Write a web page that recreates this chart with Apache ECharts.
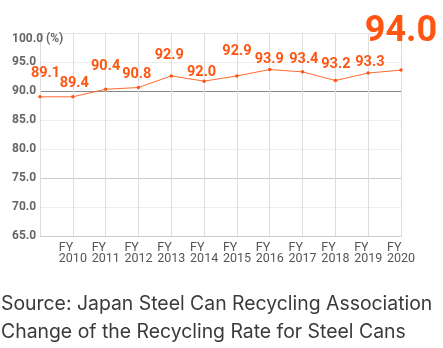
<!DOCTYPE html>
<html>
<head>
<meta charset="utf-8">
<script src="https://cdn.jsdelivr.net/npm/echarts@6/dist/echarts.min.js"></script>
<style>
html,body{margin:0;padding:0;background:#fff;}
#c{width:443px;height:348px;}
</style>
</head>
<body>
<div id="c"></div>
<script>
// ---- data ----
var categories = ['', '2010', '2011', '2012', '2013', '2014', '2015', '2016', '2017', '2018', '2019', '2020'];
// plotted positions of the line
var rates = [89.0, 89.0, 90.3, 90.6, 92.6, 91.7, 92.6, 93.7, 93.3, 91.8, 93.1, 93.6];
// printed value labels
var rateLabels = ['89.1', '89.4', '90.4', '90.8', '92.9', '92.0', '92.9', '93.9', '93.4', '93.2', '93.3', '94.0'];
var yTicks = [65, 70, 75, 80, 85, 90, 95, 100];
var sourceText = 'Source: Japan Steel Can Recycling Association';
var captionText = 'Change of the Recycling Rate for Steel Cans';

// ---- styles (label placement) ----
var labelOffsets = [[5.5,-23],[1.5,-13.7],[0,-23],[-1.7,-13.5],[-2,-21],[-2.5,-9.1],[0,-24.3],[-0.5,-10.4],[1.3,-12.8],[0.5,-16],[1.7,-10.8],[0,-37.8]];
var ORANGE = '#ff5512';

var seriesData = rates.map(function (v, i) {
  var isLast = i === rates.length - 1;
  return {
    value: v,
    label: {
      formatter: rateLabels[i],
      offset: labelOffsets[i],
      fontSize: isLast ? 36 : 14.5,
      fontFamily: 'Roboto',
      fontWeight: 'bold'
    }
  };
});

var chart = echarts.init(document.getElementById('c'), null, {renderer: 'canvas'});
chart.setOption({
  animation: false,
  grid: {left: 40, right: 42, top: 33, bottom: 112, containLabel: false},
  xAxis: {
    type: 'category',
    data: categories,
    boundaryGap: false,
    axisLine: {show: true, lineStyle: {color: '#cccccc', width: 1}},
    axisTick: {show: false},
    splitLine: {show: true, lineStyle: {color: '#dddddd', width: 1}},
    axisLabel: {
      interval: 0,
      margin: 6,
      formatter: function (v) { return v ? '{a|FY}\n{a|' + v + '}' : ''; },
      rich: {
        a: {width: 28, align: 'left', fontFamily: 'Roboto', fontSize: 12.5, color: '#555555', lineHeight: 11.5}
      }
    }
  },
  yAxis: {
    type: 'value',
    min: 65, max: 100, interval: 5,
    axisLine: {show: false},
    axisTick: {show: false},
    splitLine: {show: true, lineStyle: {color: ['#cccccc','#eeeeee','#cccccc','#eeeeee','#eeeeee','#888888','#eeeeee','#e4e4e4'], width: 1}},
    axisLabel: {
      align: 'left',
      margin: 28,
      fontFamily: 'Roboto', fontWeight: 'bold', fontSize: 12, color: '#666666',
      formatter: function (v) {
        if (v === yTicks[yTicks.length - 1]) return '{t|' + v.toFixed(1) + ' (%)}';
        return v.toFixed(1);
      },
      rich: {
        t: {fontFamily: 'Roboto', fontWeight: 'bold', fontSize: 12, color: '#666666', padding: [12, 0, 0, 0]}
      }
    }
  },
  series: [{
    type: 'line',
    data: seriesData,
    symbol: 'circle',
    symbolSize: 3.5,
    itemStyle: {color: ORANGE},
    lineStyle: {color: '#ff6a30', width: 1},
    label: {show: true, position: 'inside', color: ORANGE}
  }],
  graphic: [
    {type: 'text', left: 1, top: 295, style: {text: sourceText, font: '19.4px Inter', fill: '#3a3a3a'}},
    {type: 'text', left: 1, top: 323, style: {text: captionText, font: '19.4px Inter', fill: '#3a3a3a'}}
  ]
});
</script>
</body>
</html>
